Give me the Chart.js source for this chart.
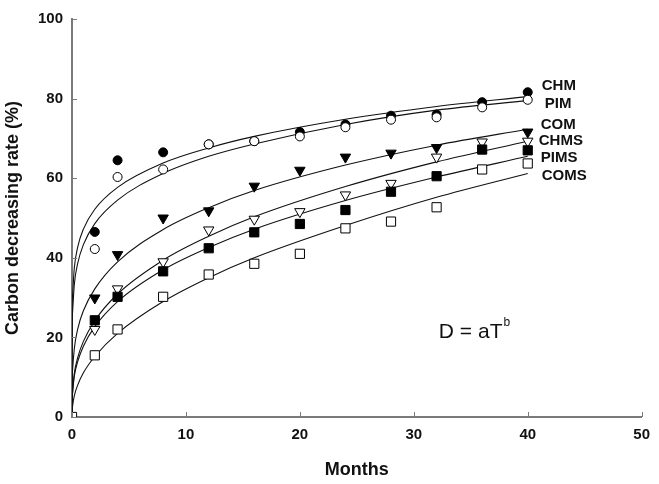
<!DOCTYPE html>
<html>
<head>
<meta charset="utf-8">
<script src="https://cdn.jsdelivr.net/npm/chart.js@4/dist/chart.umd.min.js"></script>
<style>
  html, body { margin: 0; padding: 0; background: #fff; }
  #wrap { width: 659px; height: 484px; }
</style>
</head>
<body>
<div id="wrap"><canvas id="carbonChart" width="659" height="484"></canvas></div>
<script>
// ---- measured points (months vs carbon decreasing rate, %) ----
const months = [0, 2, 4, 8, 12, 16, 20, 24, 28, 32, 36, 40];

const chm  = [null, 46.5, 64.5, 66.5, 68.5, 69.3, 71.6, 73.5, 75.7, 76.0, 79.1, 81.6];
const pim  = [null, 42.2, 60.3, 62.2, 68.5, 69.3, 70.5, 72.8, 74.7, 75.3, 77.8, 79.7];
const com  = [null, 29.9, 40.8, 50.0, 51.8, 58.0, 62.0, 65.3, 66.3, 67.7, null, 71.6];
const chms = [null, 22.0, 32.2, 39.0, 47.0, 49.7, 51.6, 55.8, 58.7, 65.3, 69.1, 69.3];
const pims = [null, 24.3, 30.2, 36.6, 42.4, 46.4, 48.5, 52.0, 56.6, 60.5, 67.2, 67.0];
const coms = [0, 15.5, 22.0, 30.2, 35.8, 38.5, 41.0, 47.4, 49.1, 52.7, 62.2, 63.7];

// ---- fitted curves (D = aT^b) ----
const curveMonths = [0, 0.01, 0.05, 0.2, 0.5, 1, 2, 4, 8, 12, 16, 24, 32, 40];
const chmFit  = [0, 24.2, 30.6, 37.4, 42.7, 47.2, 52.2, 57.7, 63.8, 67.6, 70.5, 74.8, 78.0, 80.5];
const pimFit  = [0, 20.3, 26.4, 33.2, 38.6, 43.3, 48.6, 54.5, 61.2, 65.5, 68.6, 73.5, 77.1, 79.5];
const comFit  = [0, 7.6, 11.7, 17.1, 22.1, 26.7, 32.2, 39.0, 47.1, 52.6, 56.9, 63.3, 68.3, 72.3];
const chmsFit = [0, 3.8, 6.3, 10.9, 14.9, 19.0, 24.2, 30.9, 39.4, 45.4, 50.3, 57.9, 64.1, 69.3];
const pimsFit = [0, 3.5, 5.9, 10.2, 13.9, 17.8, 22.7, 29.0, 37.0, 42.6, 47.2, 54.4, 60.3, 65.5];
const comsFit = [0, 1.3, 2.7, 5.3, 8.0, 11.1, 15.2, 21.0, 29.0, 35.0, 40.0, 48.1, 55.2, 61.2];

const seriesNames = ['CHM', 'PIM', 'COM', 'CHMS', 'PIMS', 'COMS'];

const xTicks = [0, 10, 20, 30, 40, 50];
const yTicks = [0, 20, 40, 60, 80, 100];

function pts(xs, ys) {
  return xs.map((x, i) => ({ x: x, y: ys[i] }));
}

function markerSet(name, ys, style, fill, radius, rotation) {
  return {
    label: name,
    data: pts(months, ys),
    showLine: false,
    pointStyle: style,
    pointRadius: radius,
    pointRotation: rotation || 0,
    pointBackgroundColor: fill,
    pointBorderColor: '#000',
    pointBorderWidth: 1
  };
}

function fitSet(name, ys) {
  return {
    label: name + ' fit',
    data: pts(curveMonths, ys),
    showLine: true,
    pointRadius: 0,
    borderColor: '#111',
    borderWidth: 1.1,
    cubicInterpolationMode: 'monotone',
    fill: false
  };
}

const AXIS_COLOR = '#7a7a7a';
const TICK_FONT = { family: '"Liberation Sans Narrow", "Liberation Sans", Arial, sans-serif', size: 15, weight: 'bold' };
const TITLE_FONT = { family: '"Liberation Sans", Arial, sans-serif', size: 18, weight: 'bold' };

// inward tick marks, like the original plotting package
const innerTicks = {
  id: 'innerTicks',
  afterDraw(chart) {
    const ctx = chart.ctx;
    const xs = chart.scales.x, ys = chart.scales.y;
    const area = chart.chartArea;
    ctx.save();
    ctx.strokeStyle = AXIS_COLOR;
    ctx.lineWidth = 1;
    ctx.beginPath();
    xTicks.forEach(v => {
      const px = Math.round(xs.getPixelForValue(v)) + 0.5;
      ctx.moveTo(px, area.bottom);
      ctx.lineTo(px, area.bottom - 5);
    });
    yTicks.forEach(v => {
      const py = Math.round(ys.getPixelForValue(v)) + 0.5;
      ctx.moveTo(area.left, py);
      ctx.lineTo(area.left + 5, py);
    });
    ctx.stroke();
    ctx.restore();
  }
};

// series names at the right end and the model equation
const annotations = {
  id: 'annotations',
  afterDraw(chart) {
    const ctx = chart.ctx;
    const xs = chart.scales.x, ys = chart.scales.y;
    const labelSpots = {
      CHM:  { dx: 14, v: 83.2 },
      PIM:  { dx: 17, v: 78.8 },
      COM:  { dx: 13, v: 73.3 },
      CHMS: { dx: 11, v: 69.3 },
      PIMS: { dx: 13, v: 65.0 },
      COMS: { dx: 14, v: 60.5 }
    };
    const x40 = xs.getPixelForValue(40);
    ctx.save();
    ctx.fillStyle = '#111';
    ctx.textBaseline = 'middle';
    ctx.textAlign = 'left';
    ctx.font = 'bold 15px "Liberation Sans", Arial, sans-serif';
    seriesNames.forEach(n => {
      const s = labelSpots[n];
      ctx.fillText(n, x40 + s.dx, ys.getPixelForValue(s.v));
    });

    const ex = xs.getPixelForValue(32.2), ey = ys.getPixelForValue(21.4);
    ctx.font = '21px "Liberation Sans", Arial, sans-serif';
    ctx.fillText('D = aT', ex, ey);
    const w = ctx.measureText('D = aT').width;
    ctx.font = '12px "Liberation Sans", Arial, sans-serif';
    ctx.fillText('b', ex + w + 1, ey - 9);
    ctx.restore();
  }
};

// first dataset is painted last, so open markers sit on top of filled ones
const datasets = [
  markerSet('COMS', coms, 'rect', '#fff', 6.5),
  markerSet('PIMS', pims, 'rect', '#000', 6.5),
  markerSet('CHMS', chms, 'triangle', '#fff', 6, 180),
  markerSet('COM', com, 'triangle', '#000', 6, 180),
  markerSet('PIM', pim, 'circle', '#fff', 4.5),
  markerSet('CHM', chm, 'circle', '#000', 4.5),
  fitSet('CHM', chmFit),
  fitSet('PIM', pimFit),
  fitSet('COM', comFit),
  fitSet('CHMS', chmsFit),
  fitSet('PIMS', pimsFit),
  fitSet('COMS', comsFit)
];

const canvas = document.getElementById('carbonChart');
new Chart(canvas.getContext('2d'), {
  type: 'scatter',
  data: { datasets: datasets },
  options: {
    responsive: false,
    animation: false,
    layout: { padding: { top: 19, right: 13, left: 0, bottom: 0 } },
    plugins: {
      legend: { display: false },
      tooltip: { enabled: false }
    },
    scales: {
      x: {
        type: 'linear',
        min: 0,
        max: 50,
        afterFit: s => { s.height = 67; },
        afterBuildTicks: s => { s.ticks = xTicks.map(v => ({ value: v })); },
        grid: { display: false, drawTicks: false },
        border: { display: true, color: AXIS_COLOR, width: 2 },
        ticks: { color: '#111', font: TICK_FONT, padding: 9 },
        title: { display: true, text: 'Months', color: '#111', font: TITLE_FONT, padding: { top: 3, bottom: 3 } }
      },
      y: {
        type: 'linear',
        min: 0,
        max: 100,
        afterFit: s => { s.width = 72; },
        afterBuildTicks: s => { s.ticks = yTicks.map(v => ({ value: v })); },
        grid: { display: false, drawTicks: false },
        border: { display: true, color: AXIS_COLOR, width: 2 },
        ticks: { color: '#111', font: TICK_FONT, padding: 9 },
        title: { display: true, text: 'Carbon decreasing rate (%)', color: '#111', font: TITLE_FONT, padding: { top: 2, bottom: 2 } }
      }
    }
  },
  plugins: [innerTicks, annotations]
});
</script>
</body>
</html>
